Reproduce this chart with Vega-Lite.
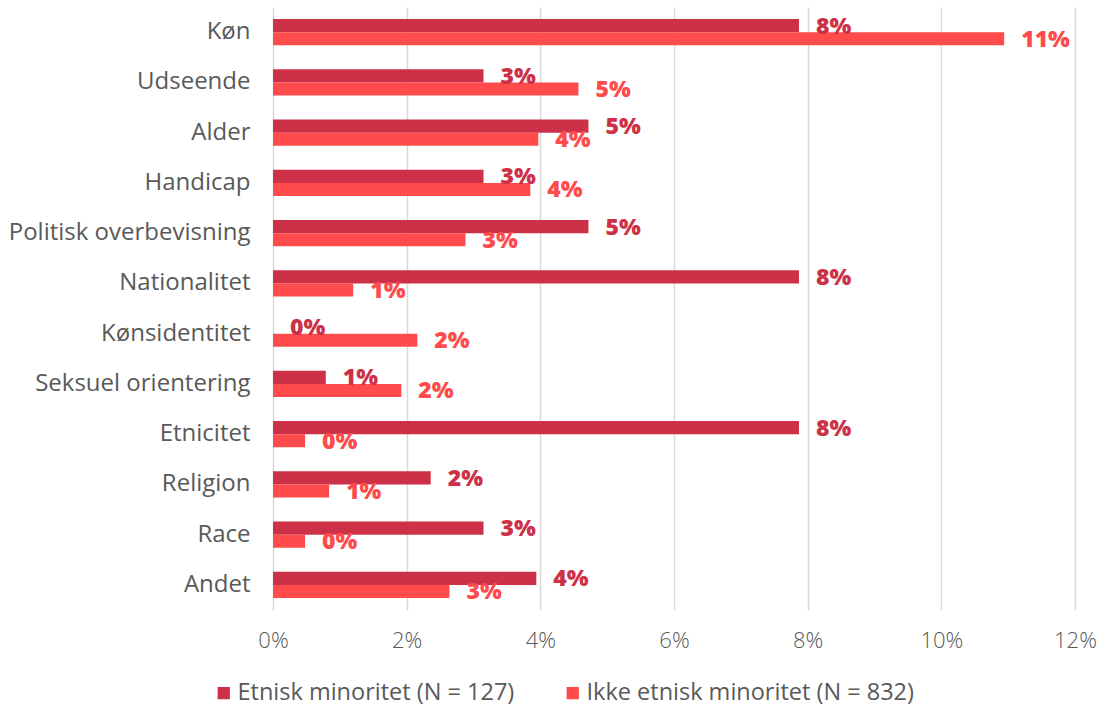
{
  "$schema": "https://vega.github.io/schema/vega-lite/v6.json",
  "width": 802,
  "height": 603,
  "autosize": {"type": "none"},
  "padding": {"left": 273, "top": 7, "right": 32, "bottom": 100},
  "background": "white",
  "config": {
    "view": {"stroke": null},
    "font": "Open Sans",
    "axis": {"labelFont": "Open Sans", "labelColor": "#595959", "labelFontWeight": 300},
    "legend": {"labelFont": "Open Sans", "labelColor": "#595959", "labelFontWeight": 300}
  },
  "data": {
    "values": [
      {"kategori": "Køn", "gruppe": "Etnisk minoritet (N = 127)", "andel": 0.0787},
      {"kategori": "Køn", "gruppe": "Ikke etnisk minoritet (N = 832)", "andel": 0.1094},
      {"kategori": "Udseende", "gruppe": "Etnisk minoritet (N = 127)", "andel": 0.0315},
      {"kategori": "Udseende", "gruppe": "Ikke etnisk minoritet (N = 832)", "andel": 0.0457},
      {"kategori": "Alder", "gruppe": "Etnisk minoritet (N = 127)", "andel": 0.0472},
      {"kategori": "Alder", "gruppe": "Ikke etnisk minoritet (N = 832)", "andel": 0.0397},
      {"kategori": "Handicap", "gruppe": "Etnisk minoritet (N = 127)", "andel": 0.0315},
      {"kategori": "Handicap", "gruppe": "Ikke etnisk minoritet (N = 832)", "andel": 0.0385},
      {"kategori": "Politisk overbevisning", "gruppe": "Etnisk minoritet (N = 127)", "andel": 0.0472},
      {"kategori": "Politisk overbevisning", "gruppe": "Ikke etnisk minoritet (N = 832)", "andel": 0.0288},
      {"kategori": "Nationalitet", "gruppe": "Etnisk minoritet (N = 127)", "andel": 0.0787},
      {"kategori": "Nationalitet", "gruppe": "Ikke etnisk minoritet (N = 832)", "andel": 0.012},
      {"kategori": "Kønsidentitet", "gruppe": "Etnisk minoritet (N = 127)", "andel": 0},
      {"kategori": "Kønsidentitet", "gruppe": "Ikke etnisk minoritet (N = 832)", "andel": 0.0216},
      {"kategori": "Seksuel orientering", "gruppe": "Etnisk minoritet (N = 127)", "andel": 0.0079},
      {"kategori": "Seksuel orientering", "gruppe": "Ikke etnisk minoritet (N = 832)", "andel": 0.0192},
      {"kategori": "Etnicitet", "gruppe": "Etnisk minoritet (N = 127)", "andel": 0.0787},
      {"kategori": "Etnicitet", "gruppe": "Ikke etnisk minoritet (N = 832)", "andel": 0.0048},
      {"kategori": "Religion", "gruppe": "Etnisk minoritet (N = 127)", "andel": 0.0236},
      {"kategori": "Religion", "gruppe": "Ikke etnisk minoritet (N = 832)", "andel": 0.0084},
      {"kategori": "Race", "gruppe": "Etnisk minoritet (N = 127)", "andel": 0.0315},
      {"kategori": "Race", "gruppe": "Ikke etnisk minoritet (N = 832)", "andel": 0.0048},
      {"kategori": "Andet", "gruppe": "Etnisk minoritet (N = 127)", "andel": 0.0394},
      {"kategori": "Andet", "gruppe": "Ikke etnisk minoritet (N = 832)", "andel": 0.0264}
    ]
  },
  "encoding": {
    "y": {
      "field": "kategori",
      "type": "nominal",
      "sort": ["Køn", "Udseende", "Alder", "Handicap", "Politisk overbevisning", "Nationalitet", "Kønsidentitet", "Seksuel orientering", "Etnicitet", "Religion", "Race", "Andet"],
      "scale": {"paddingInner": 0.48, "paddingOuter": 0.24},
      "axis": {"title": null, "ticks": false, "domain": false, "labelFontSize": 24, "labelFontWeight": 400, "labelPadding": 23, "labelLimit": 400}
    },
    "yOffset": {
      "field": "gruppe",
      "type": "nominal",
      "sort": ["Etnisk minoritet (N = 127)", "Ikke etnisk minoritet (N = 832)"],
      "scale": {"paddingInner": 0, "paddingOuter": 0}
    },
    "x": {
      "field": "andel",
      "type": "quantitative",
      "scale": {"domain": [0, 0.12], "nice": false},
      "axis": {"title": null, "format": ".0%", "values": [0, 0.02, 0.04, 0.06, 0.08, 0.1, 0.12], "ticks": false, "domain": false, "labelFlush": false, "gridColor": "#D9D9D9", "gridWidth": 1.5, "labelFontSize": 22, "labelPadding": 20}
    },
    "color": {
      "field": "gruppe",
      "type": "nominal",
      "scale": {"domain": ["Etnisk minoritet (N = 127)", "Ikke etnisk minoritet (N = 832)"], "range": ["#CC3147", "#FF4B4B"]}
    }
  },
  "layer": [
    {
      "mark": {"type": "bar"},
      "encoding": {
        "color": {
          "field": "gruppe",
          "type": "nominal",
          "scale": {"domain": ["Etnisk minoritet (N = 127)", "Ikke etnisk minoritet (N = 832)"], "range": ["#CC3147", "#FF4B4B"]},
          "legend": {"title": null, "orient": "none", "legendX": -61, "legendY": 674, "direction": "horizontal", "symbolType": "square", "symbolSize": 150, "symbolStrokeWidth": 0, "labelFontSize": 23.5, "labelFontWeight": 400, "columnPadding": 46, "symbolOffset": 0, "labelOffset": 2, "labelLimit": 400}
        }
      }
    },
    {
      "mark": {"type": "text", "align": "left", "baseline": "middle", "dx": 17, "dy": 1, "fontSize": 23, "fontWeight": 800},
      "encoding": {
        "text": {"field": "andel", "type": "quantitative", "format": ".0%"}
      }
    }
  ]
}
